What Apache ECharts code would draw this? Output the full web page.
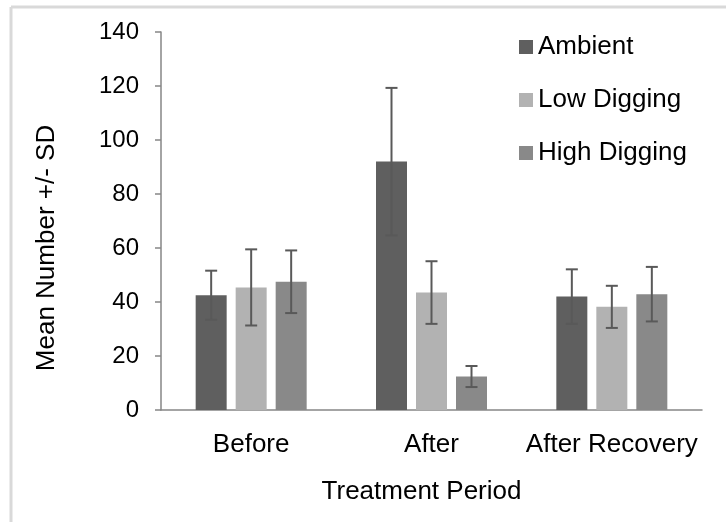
<!DOCTYPE html>
<html>
<head>
<meta charset="utf-8">
<script src="https://cdn.jsdelivr.net/npm/echarts@6/dist/echarts.min.js"></script>
<style>
  html, body { margin: 0; padding: 0; background: #fff; }
  #bar-chart { width: 726px; height: 522px; }
</style>
</head>
<body>
<div id="bar-chart"></div>
<script>
const categories = ['Before', 'After', 'After Recovery'];
const seriesNames = ['Ambient', 'Low Digging', 'High Digging'];
const ambientMean = [42.5, 92, 42];
const ambientSd = [9.1, 27.3, 10.1];
const lowMean = [45.4, 43.5, 38.2];
const lowSd = [14.1, 11.6, 7.8];
const highMean = [47.5, 12.4, 42.9];
const highSd = [11.6, 3.9, 10.1];
const yTicks = [0, 20, 40, 60, 80, 100, 120, 140];

const colors = ['#5f5f5f', '#b2b2b2', '#898989'];
const barW = 31;
const gapPx = 9;
const font = 'Liberation Sans, Arial, sans-serif';

const means = [ambientMean, lowMean, highMean];
const sds = [ambientSd, lowSd, highSd];

// error bar renderer, shifted to the bar of series idx
const errRender = (idx) => (params, api) => {
    const hi = api.coord([api.value(0), api.value(1)]);
    const lo = api.coord([api.value(0), api.value(2)]);
    const x = hi[0] + (idx - 1) * (barW + gapPx);
    const cap = 6;
    const style = { stroke: '#595959', lineWidth: 2 };
    return {
        type: 'group',
        children: [
            { type: 'line', shape: { x1: x, y1: hi[1], x2: x, y2: lo[1] }, style: style },
            { type: 'line', shape: { x1: x - cap, y1: hi[1], x2: x + cap, y2: hi[1] }, style: style },
            { type: 'line', shape: { x1: x - cap, y1: lo[1], x2: x + cap, y2: lo[1] }, style: style }
        ]
    };
};

const barSeries = seriesNames.map((name, i) => ({
    name: name,
    type: 'bar',
    data: means[i],
    barWidth: barW,
    barGap: (gapPx / barW * 100) + '%',
    itemStyle: { color: colors[i] },
    z: 2
}));

const errSeries = seriesNames.map((name, i) => ({
    type: 'custom',
    renderItem: errRender(i),
    data: means[i].map((m, k) => [k, m + sds[i][k], m - sds[i][k]]),
    z: 5,
    silent: true
}));

const chart = echarts.init(document.getElementById('bar-chart'));
chart.setOption({
    animation: false,
    textStyle: { fontFamily: font },
    grid: { left: 161, right: 24, top: 32, bottom: 112 },
    legend: {
        data: seriesNames,
        orient: 'vertical',
        left: 519,
        top: 34,
        padding: 0,
        itemWidth: 14,
        itemHeight: 14,
        itemGap: 27,
        icon: 'rect',
        textStyle: { fontSize: 26, color: '#000', fontFamily: font }
    },
    graphic: [
        { type: 'line', shape: { x1: 11, y1: 7, x2: 726, y2: 7 }, style: { stroke: '#d9d9d9', lineWidth: 3 } },
        { type: 'line', shape: { x1: 11, y1: 7, x2: 11, y2: 522 }, style: { stroke: '#d9d9d9', lineWidth: 3 } }
    ],
    xAxis: {
        type: 'category',
        data: categories,
        name: 'Treatment Period',
        nameLocation: 'middle',
        nameGap: 69,
        nameTextStyle: { fontSize: 26, color: '#000', padding: [0, 20, 0, 0] },
        axisLine: { lineStyle: { color: '#868686', width: 1.5 } },
        axisTick: { length: 6, lineStyle: { color: '#868686', width: 1.5 } },
        axisLabel: { fontSize: 26, color: '#000', margin: 22, interval: 0 }
    },
    yAxis: {
        type: 'value',
        min: yTicks[0],
        max: yTicks[yTicks.length - 1],
        interval: 20,
        name: 'Mean Number +/- SD',
        nameLocation: 'middle',
        nameGap: 101,
        nameTextStyle: { fontSize: 26, color: '#000', padding: [0, 54, 0, 0] },
        splitLine: { show: false },
        axisLine: { show: true, lineStyle: { color: '#868686', width: 1.5 } },
        axisTick: { show: true, length: 6, lineStyle: { color: '#868686', width: 1.5 } },
        axisLabel: { fontSize: 24, color: '#000', margin: 22 }
    },
    series: barSeries.concat(errSeries)
});
</script>
</body>
</html>
